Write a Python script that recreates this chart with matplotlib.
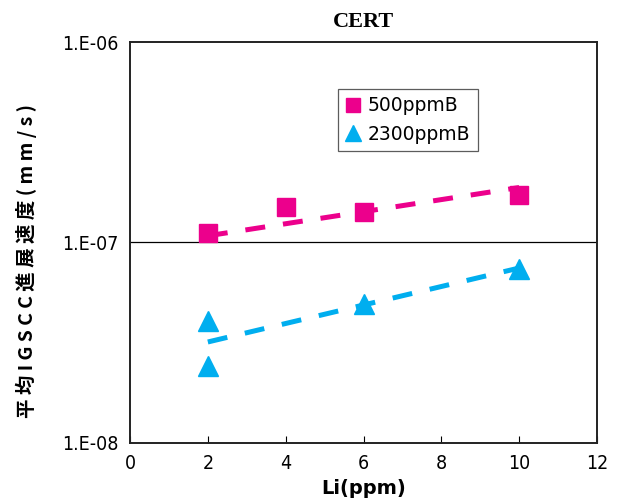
import matplotlib
matplotlib.use("Agg")
import matplotlib.pyplot as plt
import matplotlib.ticker as mticker

plt.rcParams['font.family'] = ['DejaVu Sans', 'Noto Sans CJK JP']

# data
li_500 = [2, 4, 6, 10]
rate_500 = [1.11e-7, 1.50e-7, 1.42e-7, 1.73e-7]
li_2300 = [2, 2, 6, 10]
rate_2300 = [4.06e-8, 2.42e-8, 4.93e-8, 7.38e-8]

# trend lines (as drawn)
trend_x = [2, 10]
trend_500 = [1.08e-7, 1.88e-7]
trend_2300 = [3.19e-8, 7.46e-8]

y_ticks = [1e-8, 1e-7, 1e-6]
y_labels = ['1.E-08', '1.E-07', '1.E-06']

pink = '#EC008C'
cyan = '#00AEEF'

fig = plt.figure(figsize=(6.17, 5.03), dpi=100)
ax = fig.add_axes([0.2107, 0.1193, 0.7569, 0.7972])

ax.plot(trend_x, trend_500, color=pink, lw=3.6, dashes=(4, 3.6), zorder=2)
ax.plot(trend_x, trend_2300, color=cyan, lw=3.6, dashes=(4, 3.6), zorder=2)
ax.plot(li_500, rate_500, 's', color=pink, ms=13, mec=pink, ls='none', label='500ppmB', zorder=3)
ax.plot(li_2300, rate_2300, '^', color=cyan, ms=14, mec=cyan, ls='none', label='2300ppmB', zorder=3)

ax.set_yscale('log')
ax.set_ylim(1e-8, 1e-6)
ax.set_xlim(0, 12)
ax.set_xticks(range(0, 13, 2))
ax.yaxis.set_minor_locator(mticker.NullLocator())
ax.set_yticks(y_ticks)
ax.set_yticklabels(y_labels)
ax.axhline(1e-7, color='black', lw=0.9, zorder=1)

ax.tick_params(axis='x', direction='in', length=5, labelsize=14, pad=8)
ax.tick_params(axis='y', length=0, labelsize=14, pad=8)
for lab in ax.get_xticklabels() + ax.get_yticklabels():
    lab.set_fontstretch('condensed')
for s in ax.spines.values():
    s.set_linewidth(1.4)
    s.set_color('#222222')

ax.set_xlabel('Li(ppm)', fontsize=14, fontweight='bold', family=['DejaVu Sans'], labelpad=4)
ax.set_ylabel('平 均 I G S C C 進 展 速 度 ( m m / s )', fontsize=14,
              fontweight='bold', family=['Noto Sans CJK JP', 'DejaVu Sans'])
ax.yaxis.set_label_coords(-0.2, 0.455)
ax.set_title('CERT', fontsize=16, fontweight='bold', family=['Liberation Serif'], pad=11)

leg = ax.legend(loc='upper left', bbox_to_anchor=(0.425, 0.907), fontsize=13.5,
                frameon=True, fancybox=False, edgecolor='#333333', handlelength=0.8,
                handletextpad=0.4, borderpad=0.4, labelspacing=0.5, markerscale=0.8)
leg.get_frame().set_linewidth(0.9)

fig.savefig('out.png', dpi=100)
